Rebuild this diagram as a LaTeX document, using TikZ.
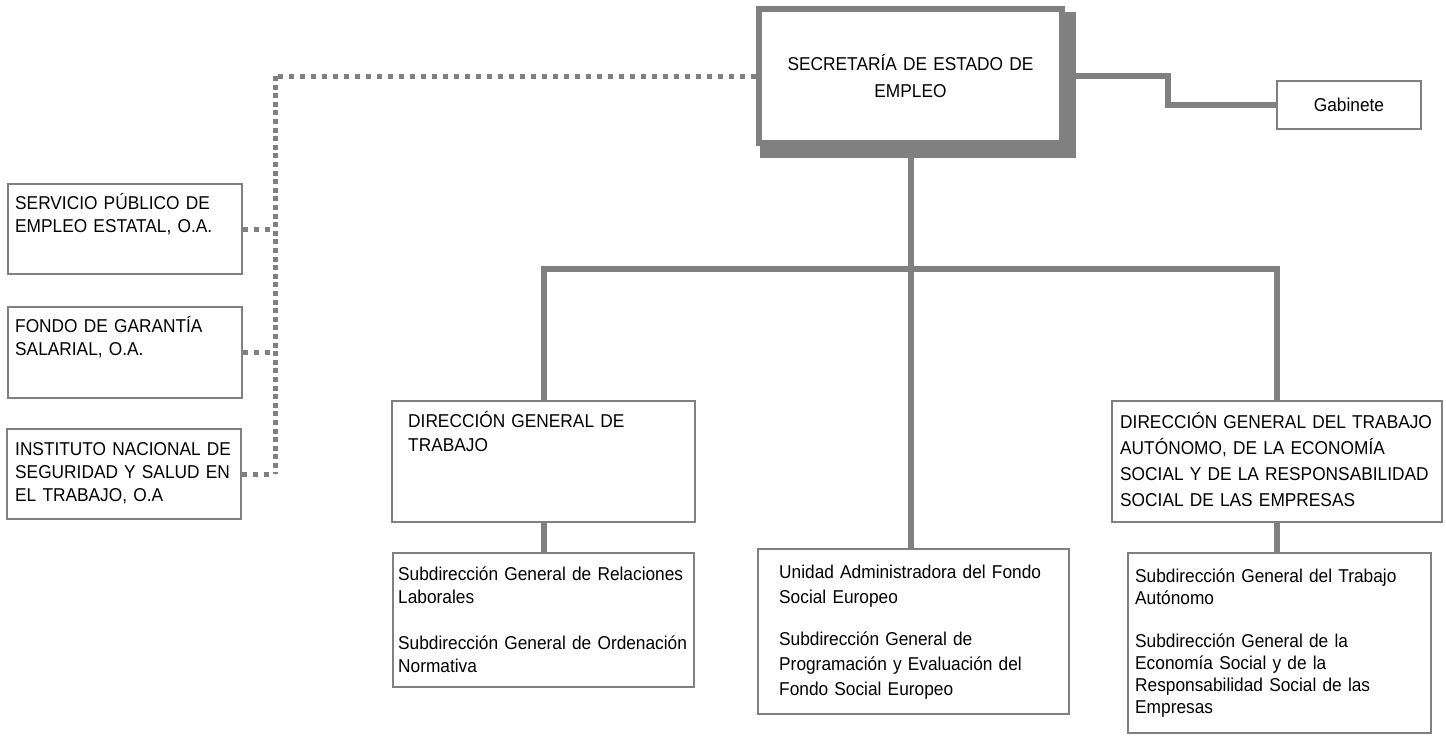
\documentclass[tikz,border=0pt]{standalone}
\usepackage{fontspec}
\setmainfont[FakeStretch=0.93]{Liberation Sans}
\usetikzlibrary{backgrounds,calc}
\definecolor{lg}{HTML}{808080}
\begin{document}
\begin{tikzpicture}[x=1pt,y=-1pt,
  box/.style={draw=lg, line width=2pt, fill=white, rectangle, inner sep=0pt, anchor=north west},
  txt/.style={inner sep=0pt, anchor=base west, align=left, text width=340pt},
  fs/.style={font=\fontsize{18.6}{#1}\selectfont},
  conn/.style={draw=lg, line width=6pt},
  dotv/.style={draw=lg, line width=5pt, dash pattern=on 5pt off 3.6pt},
  doth/.style={draw=lg, line width=5pt, dash pattern=on 5pt off 6pt}]
\useasboundingbox (0,0) rectangle (1446,736);

% top
\node[box, line width=6pt, minimum width=303pt, minimum height=134pt, align=center, text width=295pt, fs=27] (sec) at (756,6) {SECRETARÍA DE ESTADO DE\\EMPLEO};
\node[box, minimum width=144pt, minimum height=48pt, fs=23] (gab) at (1276,80) {Gabinete};

% left boxes
\node[box, minimum width=234pt, minimum height=90pt] (sp) at (7,183) {};
\node[txt, fs=23] (sp-t) at (15,209) {SERVICIO PÚBLICO DE\\EMPLEO ESTATAL, O.A.};
\node[box, minimum width=234pt, minimum height=91pt] (fg) at (7,306) {};
\node[txt, fs=23] (fg-t) at (15,332) {FONDO DE GARANTÍA\\SALARIAL, O.A.};
\node[box, minimum width=234pt, minimum height=90pt] (ins) at (6,428) {};
\node[txt, fs=23] (ins-t) at (15,455) {INSTITUTO NACIONAL DE\\SEGURIDAD Y SALUD EN\\EL TRABAJO, O.A};

% directorates
\node[box, minimum width=303pt, minimum height=121pt] (dgt) at (391,400) {};
\node[txt, fs=24] (dgt-t) at (408,427) {DIRECCIÓN GENERAL DE\\TRABAJO};
\node[box, minimum width=330pt, minimum height=121pt] (dgta) at (1111,400) {};
\node[txt, fs=26.3] (dgta-t) at (1120,428) {DIRECCIÓN GENERAL DEL TRABAJO\\AUTÓNOMO, DE LA ECONOMÍA\\SOCIAL Y DE LA RESPONSABILIDAD\\SOCIAL DE LAS EMPRESAS};

% sub boxes
\node[box, minimum width=301pt, minimum height=134pt] (sub1) at (392,552) {};
\node[txt, fs=23] (sub1-t) at (398,580) {Subdirección General de Relaciones\\Laborales\\[23pt]Subdirección General de Ordenación\\Normativa};
\node[box, minimum width=311pt, minimum height=165pt] (uni) at (757,548) {};
\node[txt, fs=25] (uni-t) at (779,578) {Unidad Administradora del Fondo\\Social Europeo\\[17pt]Subdirección General de\\Programación y Evaluación del\\Fondo Social Europeo};
\node[box, minimum width=303pt, minimum height=180pt] (sub3) at (1127,552) {};
\node[txt, fs=22] (sub3-t) at (1135,582) {Subdirección General del Trabajo\\Autónomo\\[21pt]Subdirección General de la\\Economía Social y de la\\Responsabilidad Social de las\\Empresas};

\coordinate (bar) at (907,269);
\coordinate (gk) at (1168,103);
\coordinate (dk) at (275,73);

\begin{scope}[on background layer]
  \fill[lg] ($(sec.north west)+(4,6)$) rectangle ($(sec.south east)+(11,12)$);
  \draw[conn] (sec.south) -- (sec.south |- uni.north);
  \draw[conn] (dgt.north) |- (bar) -| (dgta.north);
  \draw[conn] (dgt.south) -- (sub1.north);
  \draw[conn] (dgta.south) -- (dgta.south |- sub3.north);
  \draw[conn] (sec.east) -| (gk |- gab.west) -- (gab.west);
  \draw[doth] (sec.west) -- (sec.west -| dk);
  \draw[dotv] (sec.west -| dk) -- (ins.east -| dk);
  \draw[doth] (sp.east) -- (sp.east -| dk);
  \draw[doth] (fg.east) -- (fg.east -| dk);
  \draw[doth] (ins.east) -- (ins.east -| dk);
\end{scope}
\end{tikzpicture}
\end{document}
